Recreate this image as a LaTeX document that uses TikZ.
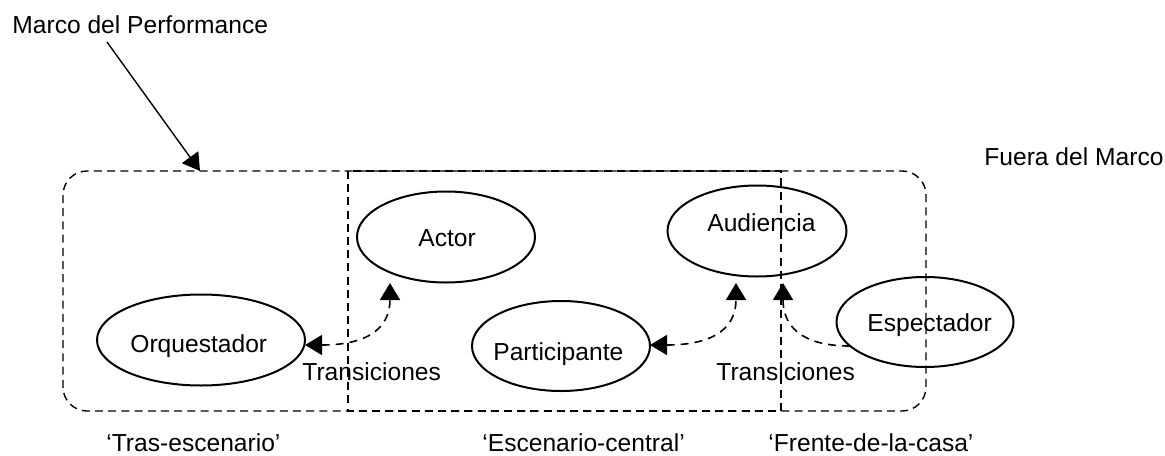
\documentclass[tikz,border=0pt]{standalone}
\usepackage{fontspec}
\setmainfont{Liberation Sans}
\usetikzlibrary{shapes.geometric,arrows.meta}
\begin{document}
\begin{tikzpicture}[x=0.5pt,y=-0.5pt,
  lbl/.style={anchor=base west,inner sep=0pt,font=\fontsize{12.3pt}{14pt}\selectfont},
  ell/.style={draw,ellipse,line width=1pt,inner sep=0pt},
  frame/.style={dashed,dash pattern=on 4pt off 2.6pt,line width=0.7pt},
  conn/.style={line width=0.8pt,dash pattern=on 4pt off 3pt,{Triangle[length=8.5pt,width=10pt]}-{Triangle[length=8.5pt,width=10pt]}},
  conn1/.style={line width=0.8pt,dash pattern=on 4pt off 3pt,-{Triangle[length=8.5pt,width=10pt]}},
  pointer/.style={line width=0.7pt,-{Triangle[length=8.5pt,width=10pt]}}]
\useasboundingbox (0,0) rectangle (1165,455);
% frames
\draw[frame,rounded corners=12pt] (63,171) rectangle (926,411);
\draw[frame] (348,171) rectangle (781,411);
% ellipses
\node[ell,minimum width=104pt,minimum height=45.5pt] (Orq) at (201,340) {};
\node[ell,minimum width=89pt,minimum height=45.5pt] (Act) at (446,237) {};
\node[ell,minimum width=89.5pt,minimum height=45.5pt] (Aud) at (757,231) {};
\node[ell,minimum width=89pt,minimum height=45pt] (Par) at (561,346) {};
\node[ell,minimum width=88.5pt,minimum height=45pt] (Esp) at (925,322) {};
% ellipse texts
\node[lbl] (tOrq) at (130,352.7) {Orquestador};
\node[lbl] (tAct) at (418,246.7) {Actor};
\node[lbl] (tAud) at (707,231) {Audiencia};
\node[lbl] (tPar) at (493,360) {Participante};
\node[lbl] (tEsp) at (867,331.7) {Espectador};
% other texts
\node[lbl] (marco) at (12,33) {Marco del Performance};
\node[lbl] (fuera) at (984,165) {Fuera del Marco};
\node[lbl] (tr1) at (302,380.7) {Transiciones};
\node[lbl] (tr2) at (716,380.7) {Transiciones};
\node[lbl] (z1) at (106,451) {‘Tras-escenario’};
\node[lbl] (z2) at (482,451) {‘Escenario-central’};
\node[lbl] (z3) at (768,451) {‘Frente-de-la-casa’};
% connector endpoints
\coordinate (o1) at (305,345);
\coordinate (a1) at (390,283);
\coordinate (p1) at (650,345);
\coordinate (u1) at (736,283);
\coordinate (e1) at (850,346);
\coordinate (u2) at (783,283);
\coordinate (m0) at (107,42);
\coordinate (m1) at (200,171);
% connectors
\draw[conn] (o1) .. controls (372,345) and (390,325) .. (a1);
\draw[conn] (p1) .. controls (718,345) and (736,325) .. (u1);
\draw[conn1] (e1) .. controls (800,346) and (783,325) .. (u2);
\draw[pointer] (m0) -- (m1);
\end{tikzpicture}
\end{document}
